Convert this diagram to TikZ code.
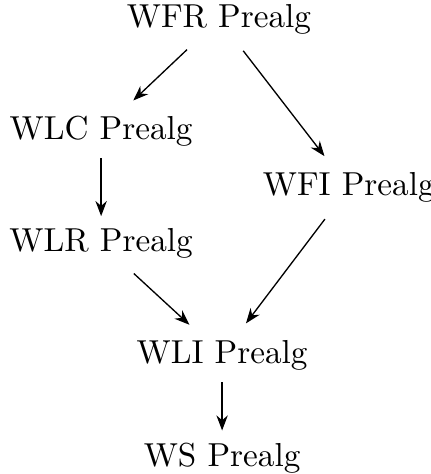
\documentclass[tikz,border=0pt]{standalone}
\usepackage{tikz}
\usetikzlibrary{arrows.meta,positioning}

\begin{document}
\begin{tikzpicture}[
  alg/.style  ={inner sep=2pt},
  arr/.style  ={-{Stealth[length=1.6mm,width=1.2mm]}, line width=0.4pt,
                shorten <=1.5pt, shorten >=1.5pt},
  darr/.style ={arr, shorten <=3.5pt, shorten >=3.5pt},
]
\useasboundingbox (0,0) rectangle (4.55,5.015);

\def\xl{1.07}
\def\xm{2.35}
\def\xr{3.69}

\node[alg] (wfr) at (2.317,4.81) {WFR Prealg};
\node[alg] (wlc) at (\xl,3.63)   {WLC Prealg};
\node[alg] (wfi) at (\xr,3.03)   {WFI Prealg};
\node[alg] (wlr) at (\xl,2.44)   {WLR Prealg};
\node[alg] (wli) at (\xm,1.26)   {WLI Prealg};
\node[alg] (ws)  at (\xm,0.17)   {WS Prealg};

\draw[darr] (wfr) -- (wlc);
\draw[darr] (wfr) -- (wfi);
\draw[arr]  (wlc) -- (wlr);
\draw[darr] (wlr) -- (wli);
\draw[darr] (wfi) -- (wli);
\draw[arr]  (wli) -- (ws);

\end{tikzpicture}
\end{document}
